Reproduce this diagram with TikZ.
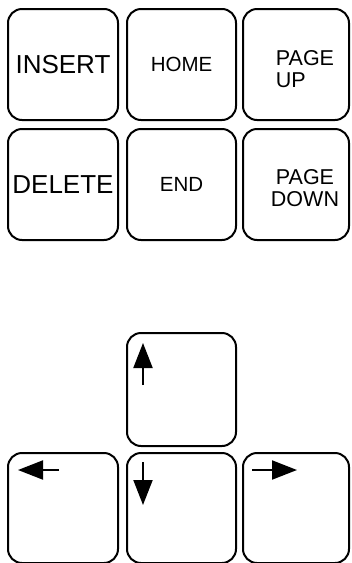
\documentclass[tikz,border=0pt]{standalone}
\usepackage{fontspec}
\setmainfont{Liberation Sans}
\usetikzlibrary{arrows.meta}
\begin{document}
\begin{tikzpicture}[x=1pt, y=-1pt, key/.style={rectangle, draw, rounded corners=14pt, line width=2pt, minimum width=110pt, minimum height=111pt, inner sep=0pt}, big/.style={font=\fontsize{26}{30}\selectfont}, small/.style={font=\fontsize{20.5}{21}\selectfont}, pg/.style={font=\fontsize{21.5}{22}\selectfont, inner sep=0pt}, ptr/.style={line width=2pt, -{Triangle[length=25pt, width=19pt]}}]

		\useasboundingbox (0,0) rectangle (352,563);

		\node[key, big] (ins) at (63,64.5) {INSERT};
		\node[key, small, minimum width=109pt] (home) at (181.5,64.5) {HOME};
		\node[key, minimum width=106pt] (pgup) at (296,64.5) {};
		\node[pg, align=left] (pguptext) at (305,69) {PAGE\\UP};

		\node[key, big] (del) at (63,184.5) {DELETE};
		\node[key, small, minimum width=109pt] (end) at (181.5,184.5) {END};
		\node[key, minimum width=106pt] (pgdn) at (296,184.5) {};
		\node[pg, align=center] (pgdntext) at (305,188.5) {PAGE\\DOWN};

		\node[key, minimum width=109pt, minimum height=113pt] (upkey) at (181.5,389.5) {};
		\node[key, minimum height=110pt] (leftkey) at (63,508) {};
		\node[key, minimum width=109pt, minimum height=110pt] (downkey) at (181.5,508) {};
		\node[key, minimum width=106pt, minimum height=110pt] (rightkey) at (296,508) {};

		\coordinate (upA) at (143,385);
		\coordinate (upB) at (143,343);
		\coordinate (leftA) at (59,470);
		\coordinate (leftB) at (18,470);
		\coordinate (downA) at (143,462);
		\coordinate (downB) at (143,505);
		\coordinate (rightA) at (252,470);
		\coordinate (rightB) at (297,470);

		\draw[ptr] (upA) -- (upB);
		\draw[ptr] (leftA) -- (leftB);
		\draw[ptr] (downA) -- (downB);
		\draw[ptr] (rightA) -- (rightB);

	\end{tikzpicture}
\end{document}
